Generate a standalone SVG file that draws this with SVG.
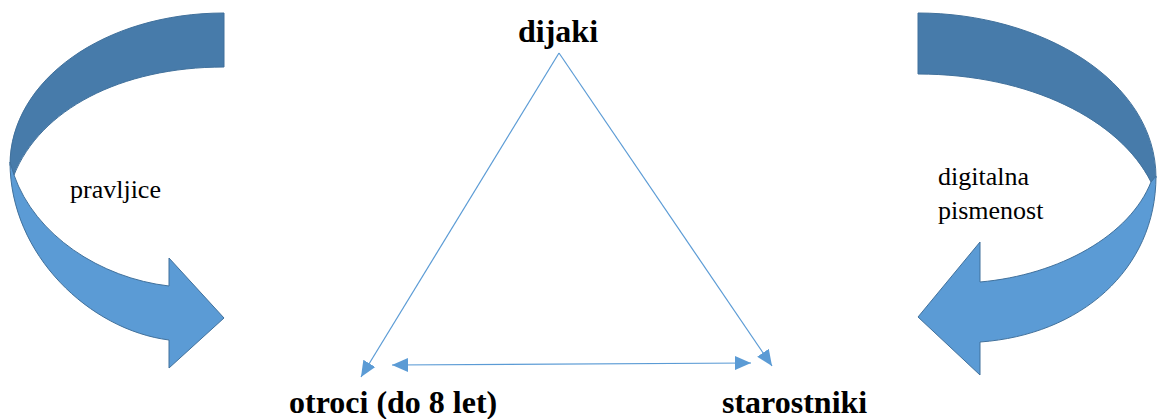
<svg xmlns="http://www.w3.org/2000/svg" width="1157" height="419" viewBox="0 0 1157 419">
<defs>
<style>
.dark{fill:#477baa;stroke:#41719c;stroke-width:1}
.light{fill:#5b9bd5;stroke:#41719c;stroke-width:1}
.conn{stroke:#5b9bd5;stroke-width:1.2;fill:none}
.bold{font-weight:bold;font-size:32px}
.reg{font-size:26px}
</style>
<marker id="ah" markerUnits="userSpaceOnUse" markerWidth="18" markerHeight="16" refX="16" refY="8" orient="auto-start-reverse" viewBox="0 0 18 16">
<path d="M0,1 L16,8 L0,15 Z" fill="#5b9bd5"/>
</marker>
</defs>
<rect width="1157" height="419" fill="#fff"/>
<g id="arrow-left">
<path class="dark" d="M224,13 C105,13 10,80 10,165 L14,175 C40,110 120,67 224,67 Z"/>
<path class="light" d="M10,162 C10,255 90,330 169,340 L169,368 L224,318 L169,258 L169,286 C100,278 35,235 14,175 Z"/>
</g>
<g id="arrow-right">
<path class="dark" d="M918,13 C1040,13 1156,80 1156,178 L1151,182 C1120,120 1030,74 918,74 Z"/>
<path class="light" d="M1156,176 C1156,270 1080,335 980,342 L980,375 L918,317 L980,242 L980,282 C1060,275 1130,235 1151,182 Z"/>
</g>
<g id="connectors">
<path class="conn" d="M559,53 L361,377" marker-end="url(#ah)"/>
<path class="conn" d="M559,53 L772,366" marker-end="url(#ah)"/>
<path class="conn" d="M392,365 L751,363" marker-start="url(#ah)" marker-end="url(#ah)"/>
</g>
<g font-family="Liberation Serif, Times New Roman, serif" fill="#000">
<g id="node-dijaki"><text class="bold" x="558" y="42" text-anchor="middle">dijaki</text></g>
<g id="node-otroci"><text class="bold" x="289" y="413">otroci (do 8 let)</text></g>
<g id="node-starostniki"><text class="bold" x="722" y="413">starostniki</text></g>
<g id="label-pravljice"><text class="reg" x="70" y="198">pravljice</text></g>
<g id="label-digitalna"><text class="reg" x="938" y="185">digitalna</text><text class="reg" x="938" y="219">pismenost</text></g>
</g>
</svg>
